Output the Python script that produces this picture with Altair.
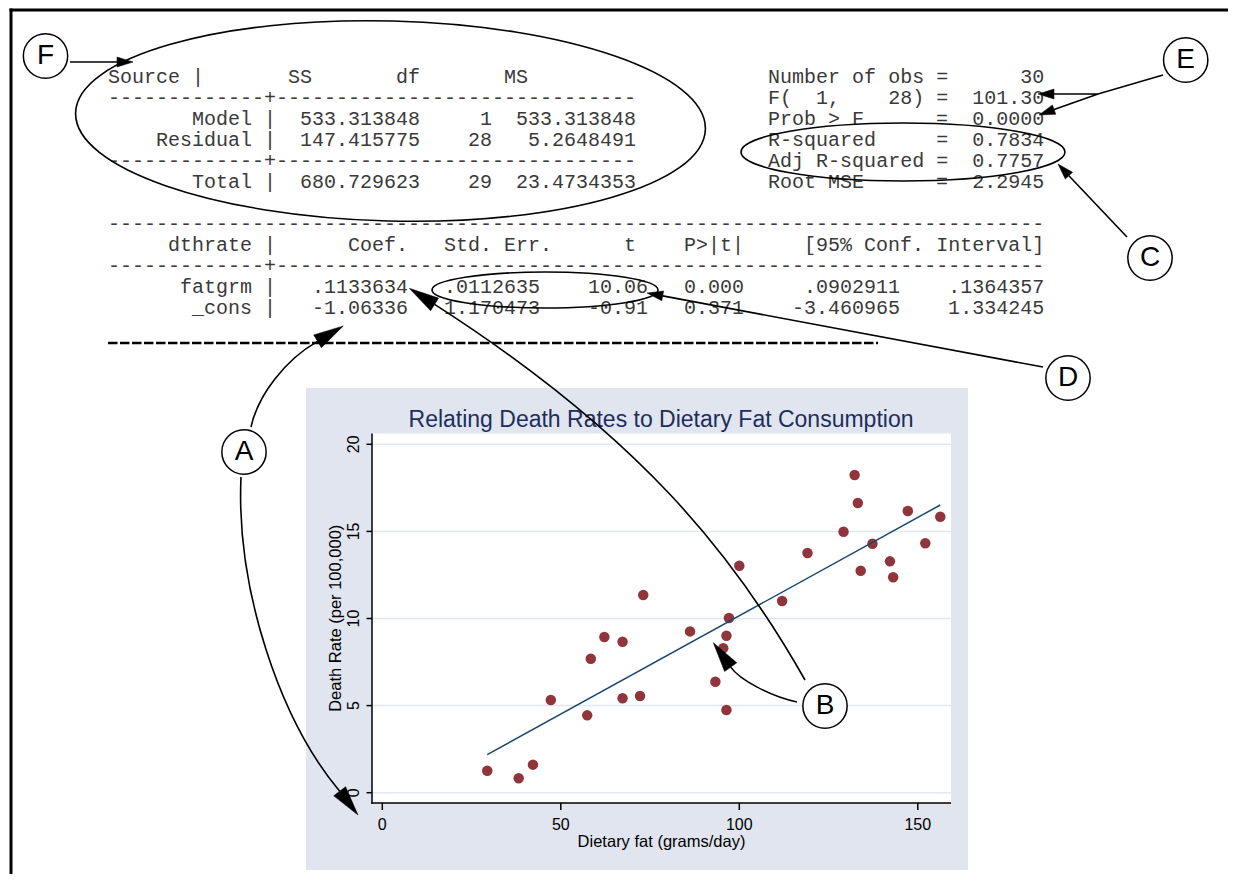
import math
import altair as alt
import pandas as pd

# ---------------- data ----------------
fat = [29.4, 38.2, 42.2, 47.2, 57.4, 58.4, 62.2, 67.3, 67.3, 72.2,
       73.1, 86.2, 97.1, 96.4, 95.5, 93.3, 96.4, 100.0, 112.0, 119.1,
       129.2, 132.3, 133.2, 134.0, 137.3, 142.2, 143.1, 147.2, 152.1, 156.3]
rate = [1.26, 0.83, 1.61, 5.32, 4.44, 7.69, 8.94, 8.67, 5.42, 5.55,
        11.35, 9.26, 10.03, 9.01, 8.29, 6.37, 4.75, 13.03, 11.0, 13.76,
        14.98, 18.24, 16.63, 12.74, 14.29, 13.28, 12.37, 16.17, 14.32, 15.84]
x_ticks = [0, 50, 100, 150]
y_ticks = [0, 5, 10, 15, 20]
chart_title = "Relating Death Rates to Dietary Fat Consumption"
x_title = "Dietary fat (grams/day)"
y_title = "Death Rate (per 100,000)"

anova_left = [
    "Source |       SS       df       MS",
    "-------------+------------------------------",
    "       Model |  533.313848     1  533.313848",
    "    Residual |  147.415775    28   5.2648491",
    "-------------+------------------------------",
    "       Total |  680.729623    29  23.4734353",
]
anova_right = [
    "Number of obs =      30",
    "F(  1,    28) =  101.30",
    "Prob > F      =  0.0000",
    "R-squared     =  0.7834",
    "Adj R-squared =  0.7757",
    "Root MSE      =  2.2945",
]
coef_lines = [
    "-" * 78,
    "     dthrate |      Coef.   Std. Err.      t    P>|t|     [95% Conf. Interval]",
    "-------------+" + "-" * 64,
    "      fatgrm |   .1133634   .0112635    10.06   0.000     .0902911    .1364357",
    "       _cons |   -1.06336   1.170473    -0.91   0.371    -3.460965    1.334245",
]
letters = ["F", "E", "C", "D", "A", "B"]

# ---------------- layout helpers ----------------
W, H = 1220, 866
PX = alt.Scale(domain=[8, 8 + W], range=[0, W])
PY = alt.Scale(domain=[8, 8 + H], range=[0, H])
MONO = "Liberation Mono"
SANS = "Liberation Sans"
NB = "\u00a0"
CHAR_W = 12.0  # advance of Liberation Mono at 20px

def px(field):
    return alt.X(field, scale=PX, axis=None)

def py(field):
    return alt.Y(field, scale=PY, axis=None)

# regression-output text lines (monospace, column aligned)
rows = [l.ljust(55) + r for l, r in zip(anova_left, anova_right)]
rows.append("")
rows += coef_lines
recs = []
for i, s in enumerate(rows):
    if not s.strip():
        continue
    lead = len(s) - len(s.lstrip(" "))
    recs.append({"line": s.strip(" ").replace(" ", NB),
                 "x": 108 + CHAR_W * lead,
                 "y": 82.5 + 21 * i})
text_df = pd.DataFrame(recs)
one = pd.DataFrame({"k": [0]})

# ---------------- background boxes (Stata graph region / plot region) --------
boxes = pd.DataFrame({"x": [306, 372], "x2": [968, 951], "y": [388, 433.5],
                      "y2": [870, 803], "c": ["#e0e5ef", "#ffffff"]})
bg = alt.Chart(boxes).mark_rect().encode(
    x=px("x:Q"), x2="x2:Q", y=py("y:Q"), y2="y2:Q",
    color=alt.Color("c:N", scale=None))

# ---------------- scatter with fitted line ----------------
XS = alt.Scale(domain=[-2.885, 159.3], range=[364, 943], nice=False, zero=False)
YS = alt.Scale(domain=[-0.591, 20.62], range=[795, 425.5], nice=False, zero=False)
sc = pd.DataFrame({"fat": fat, "rate": rate})
yt = pd.DataFrame({"v": y_ticks})
xt = pd.DataFrame({"v": x_ticks})

grid = alt.Chart(yt).mark_rule(color="#e3e8f0", strokeWidth=1.5).encode(
    y=alt.Y("v:Q", scale=YS, axis=None), x=alt.value(365), x2=alt.value(943))
pts = alt.Chart(sc).mark_circle(size=110, color="#90353b", opacity=1).encode(
    x=alt.X("fat:Q", scale=XS, axis=None),
    y=alt.Y("rate:Q", scale=YS, axis=None))
reg = alt.Chart(sc).transform_regression("fat", "rate").mark_line(
    color="#1a476f", strokeWidth=1.5).encode(
    x=alt.X("fat:Q", scale=XS, axis=None), y=alt.Y("rate:Q", scale=YS, axis=None))

# left axis of the plot region, drawn through the y scale
y_dom = alt.Chart(one).mark_rule(color="black", strokeWidth=1.5).encode(
    x=alt.value(364), y=alt.value(425.5), y2=alt.value(795.75))
y_tk = alt.Chart(yt).mark_rule(color="black", strokeWidth=1.5).encode(
    y=alt.Y("v:Q", scale=YS, axis=None), x=alt.value(358.5), x2=alt.value(364))
y_lb = alt.Chart(yt).mark_text(angle=270, align="center", baseline="alphabetic",
                               font=SANS, fontSize=16, color="black").encode(
    y=alt.Y("v:Q", scale=YS, axis=None), x=alt.value(350.5),
    text=alt.Text("v:Q", format="d"))
y_tt = alt.Chart(pd.DataFrame({"t": [y_title]})).mark_text(
    angle=270, align="center", baseline="alphabetic", font=SANS, fontSize=16.5,
    color="black").encode(x=alt.value(333), y=alt.value(610.25), text="t:N")

# bottom axis of the plot region, drawn through the x scale
x_dom = alt.Chart(one).mark_rule(color="black", strokeWidth=1.5).encode(
    x=alt.value(363.25), x2=alt.value(943), y=alt.value(795))
x_tk = alt.Chart(xt).mark_rule(color="black", strokeWidth=1.5).encode(
    x=alt.X("v:Q", scale=XS, axis=None), y=alt.value(795), y2=alt.value(802))
x_lb = alt.Chart(xt).mark_text(align="center", baseline="alphabetic", font=SANS,
                               fontSize=16, color="black").encode(
    x=alt.X("v:Q", scale=XS, axis=None), y=alt.value(822),
    text=alt.Text("v:Q", format="d"))
x_tt = alt.Chart(pd.DataFrame({"t": [x_title]})).mark_text(
    align="center", baseline="alphabetic", font=SANS, fontSize=16.5,
    color="black").encode(x=alt.value(653.5), y=alt.value(838.5), text="t:N")

scatter = alt.layer(grid, pts, reg, y_dom, y_tk, y_lb, y_tt, x_dom, x_tk, x_lb, x_tt)

# ---------------- annotations ----------------
def head(tip, d, L, w):
    ux, uy = d
    n = math.hypot(ux, uy)
    ux, uy = ux / n, uy / n
    bx, by = tip[0] - L * ux, tip[1] - L * uy
    qx, qy = -uy, ux
    p = (f"M {tip[0]:.1f} {tip[1]:.1f} L {bx + w * qx:.1f} {by + w * qy:.1f} "
         f"L {bx - w * qx:.1f} {by - w * qy:.1f} Z")
    return (bx, by), p

def ellipse(cx, cy, rx, ry, deg=0.0):
    t = math.radians(deg)
    dx, dy = rx * math.cos(t), rx * math.sin(t)
    return (f"M {cx - dx:.1f} {cy - dy:.1f} A {rx} {ry} {deg} 1 1 {cx + dx:.1f} {cy + dy:.1f} "
            f"A {rx} {ry} {deg} 1 1 {cx - dx:.1f} {cy - dy:.1f}")

BIG, BW = 30, 7.5
SM, SW = 16, 5
bF, hF = head((133, 62), (1, 0), SM, SW)
bE1, hE1 = head((1038, 94), (-1, 0), SM, SW)
bE2, hE2 = head((1039, 115), (-59, 21), SM, SW)
bC, hC = head((1058, 164), (-68.7, -73.3), SM, SW)
bD, hD = head((647, 293), (-396.6, -73.4), SM, SW)
bAu, hAu = head((343.3, 326), (26.8, -16), BIG, BW)
bAd, hAd = head((358, 815), (18, 23.3), BIG, BW)
bBl, hBl = head((409.3, 288.3), (-25.7, -16.4), BIG, BW)
bBs, hBs = head((713.3, 642.7), (-17.5, -24.5), BIG, BW)

def P(p):
    return f"{p[0]:.1f} {p[1]:.1f}"

stroke_paths = " ".join([
    f"M 70 62 L {P(bF)}",
    f"M 1163 75 L 1098 94 L {P(bE1)} M 1098 94 L {P(bE2)}",
    f"M 1127 237 L {P(bC)}",
    f"M 1043 367 L {P(bD)}",
    f"M 251 427 C 258 395 285 360 {P(bAu)}",
    f"M 241 477 C 236 590 280 720 {P(bAd)}",
    f"M 805 680 C 735 556 640 436 {P(bBl)}",
    f"M 797 702 C 770 696 740 680 {P(bBs)}",
    ellipse(390.5, 121, 315, 100, 1.5),
    ellipse(903, 152, 162, 29),
    ellipse(545, 290, 113, 18),
])
fill_paths = " ".join([hF, hE1, hE2, hC, hD, hAu, hAd, hBl, hBs])

curves = alt.Chart(one).mark_point(shape=stroke_paths, size=4, filled=False, stroke="black",
                                   strokeWidth=1.6, opacity=1).encode(
    x=alt.value(-8), y=alt.value(-8))
heads = alt.Chart(one).mark_point(shape=fill_paths, size=4, filled=True, fill="black",
                                  stroke="black", strokeWidth=0.5, opacity=1).encode(
    x=alt.value(-8), y=alt.value(-8))

circ_df = pd.DataFrame({"t": letters,
                        "x": [45.5, 1185.7, 1150, 1068, 244, 825],
                        "y": [56, 60, 258, 378, 452, 706]})
circles = alt.Chart(circ_df).mark_point(shape="circle", size=math.pi * 25 ** 2, filled=True,
                                        fill="white", stroke="black", strokeWidth=1.5,
                                        opacity=1).encode(x=px("x:Q"), y=py("y:Q"))
circ_txt = alt.Chart(circ_df).mark_text(font=SANS, fontSize=28, color="black",
                                        align="center", baseline="middle").encode(
    x=px("x:Q"), y=py("y:Q"), text="t:N")

table = alt.Chart(text_df).mark_text(font=MONO, fontSize=20, color="#3a3a3a",
                                     align="left", baseline="alphabetic").encode(
    x=px("x:Q"), y=py("y:Q"), text="line:N")

heavy = alt.Chart(pd.DataFrame({"x": [108], "x2": [878], "y": [343]})).mark_rule(
    color="black", strokeWidth=2.5, strokeDash=[9.5, 2.5]).encode(
    x=px("x:Q"), x2="x2:Q", y=py("y:Q"))

frame = alt.Chart(pd.DataFrame({"x": [9.5, 11], "x2": [1236, 11],
                                "y": [10, 8.5], "y2": [10, 882]})).mark_rule(
    color="black", strokeWidth=3).encode(
    x=px("x:Q"), x2="x2:Q", y=py("y:Q"), y2="y2:Q")

gtitle = alt.Chart(pd.DataFrame({"t": [chart_title], "x": [661], "y": [427]})).mark_text(
    font=SANS, fontSize=23, color="#1e2e5c", align="center", baseline="alphabetic").encode(
    x=px("x:Q"), y=py("y:Q"), text="t:N")

overlay = alt.layer(gtitle, table, heavy, frame, curves, heads, circles, circ_txt)

chart = alt.layer(bg, scatter, overlay).resolve_scale(
    x="independent", y="independent"
).properties(
    width=W, height=H, padding=0, autosize=alt.AutoSizeParams(type="none"),
    background="white"
).configure_view(stroke=None)

chart.save("out.html", embed_options={"renderer": "svg", "actions": False})
